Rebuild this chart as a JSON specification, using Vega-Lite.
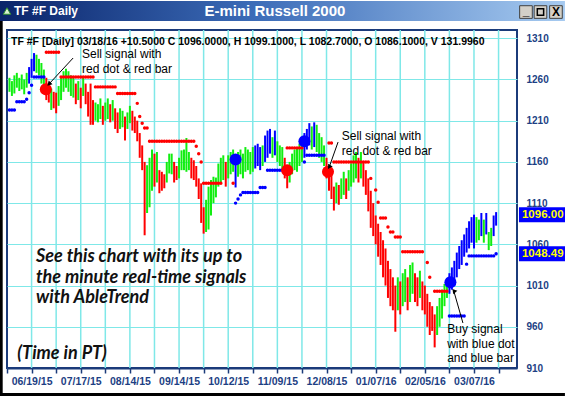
{
"$schema": "https://vega.github.io/schema/vega-lite/v6.json",
"width": 510, "height": 338,
"autosize": "none",
"padding": {"left": 7, "top": 30, "right": 48, "bottom": 28},
"background": "white",
"config": {
 "view": {"stroke": "#1b3b7a", "strokeWidth": 2},
 "font": "Liberation Sans"
},
"resolve": {"axis": {"x": "independent", "y": "independent"}},
"datasets": {
"vlines": [{"g":10},{"g":20},{"g":30},{"g":40},{"g":50},{"g":60},{"g":70},{"g":80},{"g":90},{"g":100},{"g":110},{"g":120},{"g":130},{"g":140},{"g":150},{"g":160},{"g":170},{"g":180},{"g":190},{"g":200}],
"bars": [
{"i":1,"l":1245,"h":1262,"c":"G"},{"i":2,"l":1240,"h":1258,"c":"G"},{"i":3,"l":1243,"h":1265,"c":"G"},{"i":4,"l":1250,"h":1268,"c":"G"},{"i":5,"l":1246,"h":1262,"c":"G"},{"i":6,"l":1248,"h":1266,"c":"G"},{"i":7,"l":1242,"h":1260,"c":"G"},{"i":8,"l":1250,"h":1268,"c":"G"},{"i":9,"l":1255,"h":1275,"c":"B"},{"i":10,"l":1262,"h":1285,"c":"B"},
{"i":11,"l":1270,"h":1292,"c":"B"},{"i":12,"l":1268,"h":1290,"c":"G"},{"i":13,"l":1265,"h":1285,"c":"G"},{"i":14,"l":1255,"h":1280,"c":"G"},{"i":15,"l":1250,"h":1272,"c":"G"},{"i":16,"l":1235,"h":1262,"c":"R"},{"i":17,"l":1232,"h":1256,"c":"R"},{"i":18,"l":1223,"h":1249,"c":"G"},{"i":19,"l":1225,"h":1245,"c":"R"},{"i":20,"l":1219,"h":1244,"c":"R"},
{"i":21,"l":1228,"h":1252,"c":"G"},{"i":22,"l":1235,"h":1262,"c":"G"},{"i":23,"l":1245,"h":1270,"c":"G"},{"i":24,"l":1250,"h":1273,"c":"G"},{"i":25,"l":1245,"h":1270,"c":"G"},{"i":26,"l":1240,"h":1265,"c":"G"},{"i":27,"l":1238,"h":1262,"c":"G"},{"i":28,"l":1230,"h":1255,"c":"R"},{"i":29,"l":1235,"h":1258,"c":"G"},{"i":30,"l":1225,"h":1250,"c":"R"},
{"i":31,"l":1240,"h":1262,"c":"G"},{"i":32,"l":1230,"h":1255,"c":"R"},{"i":33,"l":1215,"h":1245,"c":"R"},{"i":34,"l":1205,"h":1255,"c":"R"},{"i":35,"l":1205,"h":1235,"c":"R"},{"i":36,"l":1210,"h":1232,"c":"G"},{"i":37,"l":1208,"h":1230,"c":"G"},{"i":38,"l":1212,"h":1237,"c":"G"},{"i":39,"l":1205,"h":1228,"c":"R"},{"i":40,"l":1210,"h":1232,"c":"G"},
{"i":41,"l":1212,"h":1237,"c":"G"},{"i":42,"l":1208,"h":1230,"c":"R"},{"i":43,"l":1210,"h":1235,"c":"G"},{"i":44,"l":1200,"h":1225,"c":"R"},{"i":45,"l":1195,"h":1220,"c":"R"},{"i":46,"l":1200,"h":1225,"c":"G"},{"i":47,"l":1202,"h":1222,"c":"G"},{"i":48,"l":1186,"h":1215,"c":"R"},{"i":49,"l":1200,"h":1220,"c":"G"},{"i":50,"l":1207,"h":1228,"c":"G"},
{"i":51,"l":1198,"h":1222,"c":"R"},{"i":52,"l":1195,"h":1215,"c":"R"},{"i":53,"l":1185,"h":1210,"c":"R"},{"i":54,"l":1165,"h":1195,"c":"R"},{"i":55,"l":1150,"h":1180,"c":"R"},{"i":56,"l":1071,"h":1160,"c":"R"},{"i":57,"l":1098,"h":1156,"c":"G"},{"i":58,"l":1105,"h":1165,"c":"G"},{"i":59,"l":1125,"h":1175,"c":"G"},{"i":60,"l":1130,"h":1170,"c":"R"},
{"i":61,"l":1135,"h":1172,"c":"G"},{"i":62,"l":1122,"h":1150,"c":"R"},{"i":63,"l":1125,"h":1148,"c":"R"},{"i":64,"l":1128,"h":1145,"c":"R"},{"i":65,"l":1135,"h":1160,"c":"G"},{"i":66,"l":1146,"h":1170,"c":"G"},{"i":67,"l":1145,"h":1170,"c":"G"},{"i":68,"l":1135,"h":1160,"c":"R"},{"i":69,"l":1138,"h":1155,"c":"R"},{"i":70,"l":1140,"h":1165,"c":"G"},
{"i":71,"l":1150,"h":1174,"c":"G"},{"i":72,"l":1150,"h":1175,"c":"G"},{"i":73,"l":1148,"h":1189,"c":"G"},{"i":74,"l":1150,"h":1172,"c":"G"},{"i":75,"l":1140,"h":1165,"c":"R"},{"i":76,"l":1138,"h":1162,"c":"R"},{"i":77,"l":1130,"h":1155,"c":"R"},{"i":78,"l":1115,"h":1140,"c":"R"},{"i":79,"l":1086,"h":1134,"c":"R"},{"i":80,"l":1073,"h":1105,"c":"R"},
{"i":81,"l":1075,"h":1114,"c":"G"},{"i":82,"l":1078,"h":1130,"c":"G"},{"i":83,"l":1095,"h":1138,"c":"G"},{"i":84,"l":1110,"h":1142,"c":"G"},{"i":85,"l":1117,"h":1141,"c":"G"},{"i":86,"l":1130,"h":1158,"c":"G"},{"i":87,"l":1135,"h":1165,"c":"G"},{"i":88,"l":1138,"h":1168,"c":"G"},{"i":89,"l":1130,"h":1160,"c":"R"},{"i":90,"l":1140,"h":1168,"c":"G"},
{"i":91,"l":1145,"h":1172,"c":"G"},{"i":92,"l":1148,"h":1175,"c":"G"},{"i":93,"l":1129,"h":1162,"c":"B"},{"i":94,"l":1142,"h":1172,"c":"G"},{"i":95,"l":1145,"h":1175,"c":"G"},{"i":96,"l":1140,"h":1170,"c":"G"},{"i":97,"l":1148,"h":1178,"c":"G"},{"i":98,"l":1150,"h":1175,"c":"G"},{"i":99,"l":1145,"h":1172,"c":"G"},{"i":100,"l":1148,"h":1178,"c":"G"},
{"i":101,"l":1152,"h":1180,"c":"B"},{"i":102,"l":1155,"h":1182,"c":"B"},{"i":103,"l":1150,"h":1178,"c":"B"},{"i":104,"l":1155,"h":1180,"c":"G"},{"i":105,"l":1160,"h":1192,"c":"B"},{"i":106,"l":1165,"h":1198,"c":"B"},{"i":107,"l":1170,"h":1200,"c":"B"},{"i":108,"l":1165,"h":1190,"c":"G"},{"i":109,"l":1168,"h":1198,"c":"B"},{"i":110,"l":1160,"h":1185,"c":"G"},
{"i":111,"l":1155,"h":1180,"c":"G"},{"i":112,"l":1150,"h":1178,"c":"G"},{"i":113,"l":1140,"h":1165,"c":"R"},{"i":114,"l":1128,"h":1155,"c":"R"},{"i":115,"l":1135,"h":1160,"c":"G"},{"i":116,"l":1145,"h":1170,"c":"G"},{"i":117,"l":1150,"h":1175,"c":"G"},{"i":118,"l":1148,"h":1178,"c":"G"},{"i":119,"l":1155,"h":1182,"c":"G"},{"i":120,"l":1160,"h":1185,"c":"G"},
{"i":121,"l":1165,"h":1195,"c":"B"},{"i":122,"l":1175,"h":1200,"c":"B"},{"i":123,"l":1180,"h":1207,"c":"B"},{"i":124,"l":1175,"h":1203,"c":"G"},{"i":125,"l":1178,"h":1208,"c":"B"},{"i":126,"l":1172,"h":1205,"c":"G"},{"i":127,"l":1165,"h":1195,"c":"G"},{"i":128,"l":1160,"h":1190,"c":"G"},{"i":129,"l":1155,"h":1180,"c":"G"},{"i":130,"l":1140,"h":1165,"c":"R"},
{"i":131,"l":1125,"h":1155,"c":"R"},{"i":132,"l":1115,"h":1145,"c":"R"},{"i":133,"l":1101,"h":1130,"c":"R"},{"i":134,"l":1110,"h":1135,"c":"G"},{"i":135,"l":1108,"h":1132,"c":"R"},{"i":136,"l":1115,"h":1140,"c":"G"},{"i":137,"l":1120,"h":1148,"c":"G"},{"i":138,"l":1115,"h":1140,"c":"R"},{"i":139,"l":1125,"h":1150,"c":"G"},{"i":140,"l":1130,"h":1158,"c":"G"},
{"i":141,"l":1135,"h":1168,"c":"G"},{"i":142,"l":1140,"h":1172,"c":"G"},{"i":143,"l":1135,"h":1165,"c":"R"},{"i":144,"l":1140,"h":1172,"c":"G"},{"i":145,"l":1130,"h":1160,"c":"R"},{"i":146,"l":1120,"h":1150,"c":"R"},{"i":147,"l":1100,"h":1140,"c":"R"},{"i":148,"l":1080,"h":1125,"c":"R"},{"i":149,"l":1070,"h":1110,"c":"R"},{"i":150,"l":1060,"h":1095,"c":"R"},
{"i":151,"l":1045,"h":1085,"c":"R"},{"i":152,"l":1035,"h":1075,"c":"R"},{"i":153,"l":1020,"h":1065,"c":"R"},{"i":154,"l":1010,"h":1055,"c":"R"},{"i":155,"l":995,"h":1040,"c":"R"},{"i":156,"l":985,"h":1030,"c":"R"},{"i":157,"l":980,"h":1020,"c":"R"},{"i":158,"l":954,"h":1010,"c":"R"},{"i":159,"l":980,"h":1020,"c":"G"},{"i":160,"l":975,"h":1015,"c":"R"},
{"i":161,"l":985,"h":1025,"c":"G"},{"i":162,"l":990,"h":1030,"c":"G"},{"i":163,"l":980,"h":1020,"c":"R"},{"i":164,"l":990,"h":1035,"c":"G"},{"i":165,"l":1000,"h":1038,"c":"G"},{"i":166,"l":990,"h":1025,"c":"R"},{"i":167,"l":985,"h":1020,"c":"R"},{"i":168,"l":995,"h":1028,"c":"G"},{"i":169,"l":980,"h":1015,"c":"R"},{"i":170,"l":975,"h":1010,"c":"R"},
{"i":171,"l":960,"h":1000,"c":"R"},{"i":172,"l":950,"h":990,"c":"R"},{"i":173,"l":955,"h":985,"c":"R"},{"i":174,"l":935,"h":975,"c":"R"},{"i":175,"l":950,"h":985,"c":"G"},{"i":176,"l":960,"h":995,"c":"G"},{"i":177,"l":970,"h":1005,"c":"G"},{"i":178,"l":985,"h":1012,"c":"G"},{"i":179,"l":995,"h":1015,"c":"G"},{"i":180,"l":1000,"h":1025,"c":"B"},
{"i":181,"l":1005,"h":1032,"c":"B"},{"i":182,"l":1010,"h":1040,"c":"B"},{"i":183,"l":1020,"h":1050,"c":"B"},{"i":184,"l":1030,"h":1058,"c":"B"},{"i":185,"l":1035,"h":1065,"c":"B"},{"i":186,"l":1045,"h":1072,"c":"B"},{"i":187,"l":1050,"h":1080,"c":"B"},{"i":188,"l":1055,"h":1088,"c":"B"},{"i":189,"l":1062,"h":1093,"c":"B"},{"i":190,"l":1055,"h":1096,"c":"B"},
{"i":191,"l":1062,"h":1093,"c":"G"},{"i":192,"l":1065,"h":1090,"c":"G"},{"i":193,"l":1070,"h":1098,"c":"B"},{"i":194,"l":1062,"h":1090,"c":"G"},{"i":195,"l":1072,"h":1098,"c":"B"},{"i":196,"l":1053,"h":1075,"c":"G"},{"i":197,"l":1058,"h":1080,"c":"G"},{"i":198,"l":1070,"h":1095,"c":"B"},{"i":199,"l":1082.7,"h":1099.1,"c":"B"}
],
"stops": [
{"i":1,"v":1223,"c":"B"},{"i":2,"v":1223,"c":"B"},{"i":3,"v":1223,"c":"B"},{"i":4,"v":1233,"c":"B"},{"i":5,"v":1233,"c":"B"},{"i":6,"v":1233,"c":"B"},{"i":7,"v":1233,"c":"B"},{"i":8,"v":1236,"c":"B"},{"i":9,"v":1244,"c":"B"},{"i":10,"v":1253,"c":"B"},
{"i":11,"v":1263,"c":"B"},{"i":12,"v":1263,"c":"B"},{"i":13,"v":1263,"c":"B"},{"i":14,"v":1263,"c":"B"},{"i":15,"v":1263,"c":"B"},
{"i":16,"v":1293,"c":"R"},{"i":17,"v":1293,"c":"R"},{"i":18,"v":1293,"c":"R"},{"i":19,"v":1293,"c":"R"},{"i":20,"v":1293,"c":"R"},{"i":21,"v":1293,"c":"R"},
{"i":22,"v":1263,"c":"R"},{"i":23,"v":1263,"c":"R"},{"i":24,"v":1263,"c":"R"},{"i":25,"v":1263,"c":"R"},{"i":26,"v":1263,"c":"R"},{"i":27,"v":1263,"c":"R"},{"i":28,"v":1263,"c":"R"},{"i":29,"v":1263,"c":"R"},{"i":30,"v":1263,"c":"R"},{"i":31,"v":1263,"c":"R"},{"i":32,"v":1263,"c":"R"},{"i":33,"v":1263,"c":"R"},{"i":34,"v":1263,"c":"R"},{"i":35,"v":1263,"c":"R"},
{"i":36,"v":1251,"c":"R"},{"i":37,"v":1251,"c":"R"},{"i":38,"v":1251,"c":"R"},{"i":39,"v":1251,"c":"R"},{"i":40,"v":1251,"c":"R"},{"i":41,"v":1251,"c":"R"},{"i":42,"v":1251,"c":"R"},{"i":43,"v":1251,"c":"R"},{"i":44,"v":1251,"c":"R"},
{"i":45,"v":1243,"c":"R"},{"i":46,"v":1243,"c":"R"},{"i":47,"v":1243,"c":"R"},{"i":48,"v":1243,"c":"R"},{"i":49,"v":1243,"c":"R"},{"i":50,"v":1243,"c":"R"},{"i":51,"v":1243,"c":"R"},{"i":52,"v":1243,"c":"R"},
{"i":53,"v":1231,"c":"R"},{"i":54,"v":1215,"c":"R"},{"i":55,"v":1207,"c":"R"},{"i":56,"v":1201,"c":"R"},{"i":57,"v":1201,"c":"R"},
{"i":58,"v":1185,"c":"R"},{"i":59,"v":1185,"c":"R"},{"i":60,"v":1185,"c":"R"},{"i":61,"v":1185,"c":"R"},{"i":62,"v":1185,"c":"R"},{"i":63,"v":1185,"c":"R"},{"i":64,"v":1185,"c":"R"},{"i":65,"v":1185,"c":"R"},{"i":66,"v":1185,"c":"R"},{"i":67,"v":1185,"c":"R"},{"i":68,"v":1185,"c":"R"},{"i":69,"v":1185,"c":"R"},{"i":70,"v":1185,"c":"R"},{"i":71,"v":1185,"c":"R"},{"i":72,"v":1185,"c":"R"},{"i":73,"v":1185,"c":"R"},{"i":74,"v":1185,"c":"R"},{"i":75,"v":1185,"c":"R"},{"i":76,"v":1185,"c":"R"},
{"i":77,"v":1179,"c":"R"},{"i":78,"v":1170,"c":"R"},{"i":79,"v":1160,"c":"R"},
{"i":80,"v":1134,"c":"R"},{"i":81,"v":1134,"c":"R"},{"i":82,"v":1134,"c":"R"},{"i":83,"v":1134,"c":"R"},{"i":84,"v":1134,"c":"R"},{"i":85,"v":1134,"c":"R"},{"i":86,"v":1134,"c":"R"},{"i":87,"v":1134,"c":"R"},{"i":92,"v":1134,"c":"R"},
{"i":93,"v":1110,"c":"B"},{"i":94,"v":1115,"c":"B"},{"i":95,"v":1120,"c":"B"},{"i":96,"v":1123,"c":"B"},{"i":97,"v":1123,"c":"B"},{"i":98,"v":1123,"c":"B"},{"i":99,"v":1123,"c":"B"},{"i":100,"v":1123,"c":"B"},{"i":101,"v":1123,"c":"B"},{"i":102,"v":1123,"c":"B"},
{"i":103,"v":1129,"c":"B"},{"i":104,"v":1129,"c":"B"},{"i":105,"v":1129,"c":"B"},
{"i":106,"v":1150,"c":"B"},{"i":107,"v":1150,"c":"B"},{"i":108,"v":1150,"c":"B"},{"i":109,"v":1150,"c":"B"},{"i":110,"v":1150,"c":"B"},{"i":111,"v":1150,"c":"B"},{"i":112,"v":1150,"c":"B"},{"i":113,"v":1150,"c":"B"},
{"i":114,"v":1177,"c":"R"},{"i":115,"v":1177,"c":"R"},{"i":116,"v":1177,"c":"R"},{"i":117,"v":1177,"c":"R"},{"i":118,"v":1177,"c":"R"},{"i":119,"v":1177,"c":"R"},{"i":120,"v":1177,"c":"R"},
{"i":121,"v":1160,"c":"B"},{"i":122,"v":1168,"c":"B"},{"i":123,"v":1168,"c":"B"},{"i":124,"v":1168,"c":"B"},{"i":125,"v":1168,"c":"B"},{"i":126,"v":1168,"c":"B"},{"i":127,"v":1168,"c":"B"},{"i":128,"v":1168,"c":"B"},{"i":129,"v":1168,"c":"B"},
{"i":131,"v":1183,"c":"R"},{"i":132,"v":1183,"c":"R"},
{"i":133,"v":1160,"c":"R"},{"i":134,"v":1160,"c":"R"},{"i":135,"v":1160,"c":"R"},{"i":136,"v":1160,"c":"R"},{"i":137,"v":1160,"c":"R"},{"i":138,"v":1160,"c":"R"},{"i":139,"v":1160,"c":"R"},{"i":140,"v":1160,"c":"R"},{"i":141,"v":1160,"c":"R"},{"i":142,"v":1160,"c":"R"},{"i":143,"v":1160,"c":"R"},{"i":144,"v":1160,"c":"R"},{"i":145,"v":1160,"c":"R"},{"i":146,"v":1160,"c":"R"},{"i":147,"v":1160,"c":"R"},
{"i":148,"v":1140,"c":"R"},{"i":150,"v":1126,"c":"R"},{"i":151,"v":1111,"c":"R"},{"i":152,"v":1092,"c":"R"},{"i":153,"v":1092,"c":"R"},{"i":154,"v":1092,"c":"R"},{"i":155,"v":1081,"c":"R"},{"i":156,"v":1075,"c":"R"},{"i":157,"v":1075,"c":"R"},
{"i":158,"v":1069,"c":"R"},{"i":159,"v":1069,"c":"R"},{"i":160,"v":1069,"c":"R"},
{"i":161,"v":1051,"c":"R"},{"i":162,"v":1051,"c":"R"},{"i":163,"v":1051,"c":"R"},{"i":164,"v":1051,"c":"R"},{"i":165,"v":1051,"c":"R"},{"i":166,"v":1051,"c":"R"},{"i":167,"v":1051,"c":"R"},{"i":168,"v":1051,"c":"R"},{"i":169,"v":1051,"c":"R"},
{"i":171,"v":1038,"c":"R"},{"i":172,"v":1020,"c":"R"},
{"i":174,"v":1003,"c":"R"},{"i":175,"v":1003,"c":"R"},{"i":176,"v":1003,"c":"R"},{"i":177,"v":1003,"c":"R"},{"i":178,"v":1003,"c":"R"},{"i":179,"v":1003,"c":"R"},
{"i":180,"v":973,"c":"B"},{"i":181,"v":973,"c":"B"},{"i":182,"v":973,"c":"B"},{"i":183,"v":973,"c":"B"},{"i":184,"v":973,"c":"B"},{"i":185,"v":973,"c":"B"},{"i":186,"v":973,"c":"B"},
{"i":187,"v":1036,"c":"B"},{"i":188,"v":1046,"c":"B"},{"i":189,"v":1046,"c":"B"},{"i":190,"v":1046,"c":"B"},{"i":191,"v":1046,"c":"B"},{"i":192,"v":1046,"c":"B"},{"i":193,"v":1046,"c":"B"},{"i":194,"v":1046,"c":"B"},{"i":195,"v":1046,"c":"B"},{"i":196,"v":1046,"c":"B"},{"i":197,"v":1046,"c":"B"},{"i":198,"v":1046,"c":"B"},{"i":199,"v":1048.5,"c":"B"}
],
"signals": [
{"i":15.8,"v":1248,"c":"R"},{"i":93,"v":1163,"c":"B"},{"i":114,"v":1150,"c":"R"},{"i":121,"v":1185,"c":"B"},{"i":130.6,"v":1148,"c":"R"},{"i":180.4,"v":1014,"c":"B"}
],
"notes": [
{"i":30.5,"v":1285.7,"t":"Sell signal with\nred dot & red bar"},
{"i":136.2,"v":1186,"t":"Sell signal with\nred dot & red bar"},
{"i":179.1,"v":951.9,"t":"Buy signal\nwith blue dot\nand blue bar"}
],
"promo": [
{"i":11.8,"v":1038.9,"t":"See this chart with its up to\nthe minute real-time signals\nwith AbleTrend"},
{"i":4.2,"v":920.6,"t":"(Time in PT)"}
],
"arrows": [
{"id":"a1","i1":26.9,"v1":1286,"i2":17.1,"v2":1254.5},
{"id":"a2","i1":134.7,"v1":1184.1,"i2":131.1,"v2":1153.8},
{"id":"a3","i1":185.5,"v1":964.6,"i2":181.9,"v2":1002.2}
],
"last": [
{"v":1096,"t":"1096.00"},{"v":1048.49,"t":"1048.49"}
]
},
"layer": [
{"data":{"name":"vlines"},
 "mark":{"type":"rule","color":"#7fe8e8","strokeWidth":1.5},
 "encoding":{"x":{"field":"g","type":"quantitative","axis":null},"y":{"datum":910,"type":"quantitative","axis":null},"y2":{"datum":1320}}},
{"data":{"name":"bars"},
 "mark":{"type":"rule","strokeWidth":2},
 "encoding":{
  "x":{"field":"i","type":"quantitative","title":null,"scale":{"domain":[0,207.5],"nice":false,"zero":false},
   "axis":{"values":[0,10,20,30,40,50,60,70,80,90,100,110,120,130,140,150,160,170,180,190,200],
    "labelExpr":"datum.value==10?'06/19/15':datum.value==30?'07/17/15':datum.value==50?'08/14/15':datum.value==70?'09/14/15':datum.value==90?'10/12/15':datum.value==110?'11/09/15':datum.value==130?'12/08/15':datum.value==150?'01/07/16':datum.value==170?'02/05/16':datum.value==190?'03/07/16':''",
    "grid":false,"ticks":true,"tickColor":"#1b3b7a","tickSize":5,"tickWidth":1.5,"domain":true,"domainColor":"#1b3b7a","domainWidth":2,
    "labels":true,"labelFont":"Liberation Sans","labelFontSize":10.5,"labelFontWeight":"bold","labelColor":"#1d3f84","labelPadding":3,"labelOverlap":false,"labelFlush":false,"title":null}},
  "y":{"field":"l","type":"quantitative","title":null,"scale":{"domain":[910,1320],"nice":false,"zero":false},
   "axis":{"orient":"right","values":[910,960,1010,1060,1110,1160,1210,1260,1310],"format":"d",
    "grid":true,"gridColor":"#7fe8e8","gridWidth":1.2,"gridOpacity":1,"ticks":false,"domain":false,
    "labelFont":"Liberation Sans","labelFontSize":10,"labelFontWeight":"bold","labelColor":"#1d3f84","labelPadding":9,"labelOverlap":false,"labelFlush":false,"title":null}},
  "y2":{"field":"h"},
  "color":{"field":"c","type":"nominal","scale":{"domain":["G","R","B"],"range":["#11ee11","#ff0000","#0000ff"]},"legend":null}}},
{"data":{"name":"stops"},
 "mark":{"type":"point","shape":"circle","filled":true,"size":12,"opacity":1},
 "encoding":{"x":{"field":"i","type":"quantitative","axis":null},"y":{"field":"v","type":"quantitative","axis":null},"color":{"field":"c","type":"nominal","legend":null}}},
{"data":{"name":"signals"},
 "mark":{"type":"point","shape":"circle","filled":true,"size":145,"opacity":1},
 "encoding":{"x":{"field":"i","type":"quantitative","axis":null},"y":{"field":"v","type":"quantitative","axis":null},"color":{"field":"c","type":"nominal","legend":null}}},
{"data":{"name":"arrows"},
 "mark":{"type":"rule","color":"#000000","strokeWidth":1},
 "encoding":{"x":{"field":"i1","type":"quantitative","axis":null},"y":{"field":"v1","type":"quantitative","axis":null},"x2":{"field":"i2"},"y2":{"field":"v2"}}},
{"data":{"name":"arrows"},
 "mark":{"type":"point","shape":"triangle-up","filled":true,"size":28,"color":"#000000","opacity":1},
 "encoding":{"x":{"field":"i2","type":"quantitative","axis":null},"y":{"field":"v2","type":"quantitative","axis":null},
  "angle":{"field":"id","type":"nominal","scale":{"domain":["a1","a2","a3"],"range":[223,200,344]},"legend":null}}},
{"data":{"name":"notes"},
 "mark":{"type":"text","align":"left","baseline":"alphabetic","font":"Liberation Sans","fontSize":12,"lineBreak":"\n","lineHeight":14.3,"color":"#000000"},
 "encoding":{"x":{"field":"i","type":"quantitative","axis":null},"y":{"field":"v","type":"quantitative","axis":null},"text":{"field":"t"}}},
{"data":{"name":"promo"},
 "mark":{"type":"text","align":"left","baseline":"alphabetic","font":"Lato","fontStyle":"italic","fontWeight":"bold","fontSize":18,"lineBreak":"\n","lineHeight":20.8,"color":"#111111"},
 "encoding":{"x":{"field":"i","type":"quantitative","axis":null},"y":{"field":"v","type":"quantitative","axis":null},"text":{"field":"t"}}},
{"data":{"values":[{}]},
 "mark":{"type":"text","align":"left","baseline":"alphabetic","font":"Liberation Sans","fontSize":10.5,"fontWeight":"bold","color":"#000000"},
 "encoding":{"x":{"datum":1.63,"type":"quantitative","axis":null},"y":{"datum":1301.4,"type":"quantitative","axis":null},"text":{"value":"TF #F [Daily] 03/18/16  +10.5000 C 1096.0000, H 1099.1000, L 1082.7000, O 1086.1000, V 131.9960"}}},
{"data":{"name":"last"},
 "mark":{"type":"rect","height":15,"color":"#0000ff"},
 "encoding":{"x":{"datum":208.3,"type":"quantitative","axis":null},"x2":{"datum":228},"y":{"field":"v","type":"quantitative","axis":null}}},
{"data":{"name":"last"},
 "mark":{"type":"text","align":"left","baseline":"middle","font":"Liberation Sans","fontSize":11.5,"fontWeight":"bold","color":"#ffff00","dx":3},
 "encoding":{"x":{"datum":208.3,"type":"quantitative","axis":null},"y":{"field":"v","type":"quantitative","axis":null},"text":{"field":"t"}}},
{"data":{"values":[{}]},
 "mark":{"type":"rect","color":{"gradient":"linear","x1":0,"y1":0,"x2":1,"y2":0,"stops":[{"offset":0,"color":"#0a246a"},{"offset":0.45,"color":"#3c6cb8"},{"offset":1,"color":"#a6caf0"}]}},
 "encoding":{"x":{"datum":-2.85,"type":"quantitative","axis":null},"x2":{"datum":227},"y":{"datum":1355.2,"type":"quantitative","axis":null},"y2":{"datum":1330.9}}},
{"data":{"values":[{}]},
 "mark":{"type":"rect","color":"#000000"},
 "encoding":{"x":{"datum":-2.85,"type":"quantitative","axis":null},"x2":{"datum":-1.75},"y":{"datum":1330.9,"type":"quantitative","axis":null},"y2":{"datum":876}}},
{"data":{"values":[{}]},
 "mark":{"type":"rect","color":"#000000"},
 "encoding":{"x":{"datum":-2.85,"type":"quantitative","axis":null},"x2":{"datum":227},"y":{"datum":879.7,"type":"quantitative","axis":null},"y2":{"datum":876}}},
{"data":{"values":[{}]},
 "mark":{"type":"text","align":"center","baseline":"middle","font":"Liberation Sans","fontSize":15,"fontWeight":"bold","color":"#ffffff"},
 "encoding":{"x":{"datum":109,"type":"quantitative","axis":null},"y":{"datum":1343,"type":"quantitative","axis":null},"text":{"value":"E-mini Russell 2000"}}},
{"data":{"values":[{}]},
 "mark":{"type":"text","align":"left","baseline":"middle","font":"Liberation Sans","fontSize":12,"fontWeight":"bold","color":"#ffffff"},
 "encoding":{"x":{"datum":2.85,"type":"quantitative","axis":null},"y":{"datum":1343,"type":"quantitative","axis":null},"text":{"value":"TF #F Daily"}}},
{"data":{"values":[{}]},
 "mark":{"type":"point","shape":"triangle-up","filled":true,"size":55,"color":"#d8f0d0","stroke":"#2f8f2f","strokeWidth":1,"opacity":1},
 "encoding":{"x":{"datum":0,"type":"quantitative","axis":null},"y":{"datum":1343,"type":"quantitative","axis":null}}},
{"data":{"values":[{}]},
 "mark":{"type":"point","shape":"square","filled":true,"size":160,"color":"#d4d0c8","stroke":"#404040","strokeWidth":1,"opacity":1},
 "encoding":{"x":{"datum":211.15,"type":"quantitative","axis":null},"y":{"datum":1341.8,"type":"quantitative","axis":null}}},
{"data":{"values":[{}]},
 "mark":{"type":"point","shape":"square","filled":true,"size":160,"color":"#d4d0c8","stroke":"#404040","strokeWidth":1,"opacity":1},
 "encoding":{"x":{"datum":217.05,"type":"quantitative","axis":null},"y":{"datum":1341.8,"type":"quantitative","axis":null}}},
{"data":{"values":[{}]},
 "mark":{"type":"point","shape":"square","filled":true,"size":160,"color":"#d4d0c8","stroke":"#404040","strokeWidth":1,"opacity":1},
 "encoding":{"x":{"datum":223.35,"type":"quantitative","axis":null},"y":{"datum":1341.8,"type":"quantitative","axis":null}}},
{"data":{"values":[{}]},
 "mark":{"type":"text","align":"center","baseline":"middle","font":"Liberation Sans","fontSize":12,"fontWeight":"bold","color":"#000000"},
 "encoding":{"x":{"datum":211.15,"type":"quantitative","axis":null},"y":{"datum":1343.5,"type":"quantitative","axis":null},"text":{"value":"_"}}},
{"data":{"values":[{}]},
 "mark":{"type":"point","shape":"square","filled":false,"size":40,"color":"#000000","strokeWidth":1.5,"opacity":1},
 "encoding":{"x":{"datum":217.05,"type":"quantitative","axis":null},"y":{"datum":1341.8,"type":"quantitative","axis":null}}},
{"data":{"values":[{}]},
 "mark":{"type":"text","align":"center","baseline":"middle","font":"Liberation Sans","fontSize":12,"fontWeight":"bold","color":"#000000"},
 "encoding":{"x":{"datum":223.35,"type":"quantitative","axis":null},"y":{"datum":1341.5,"type":"quantitative","axis":null},"text":{"value":"X"}}}
]
}
